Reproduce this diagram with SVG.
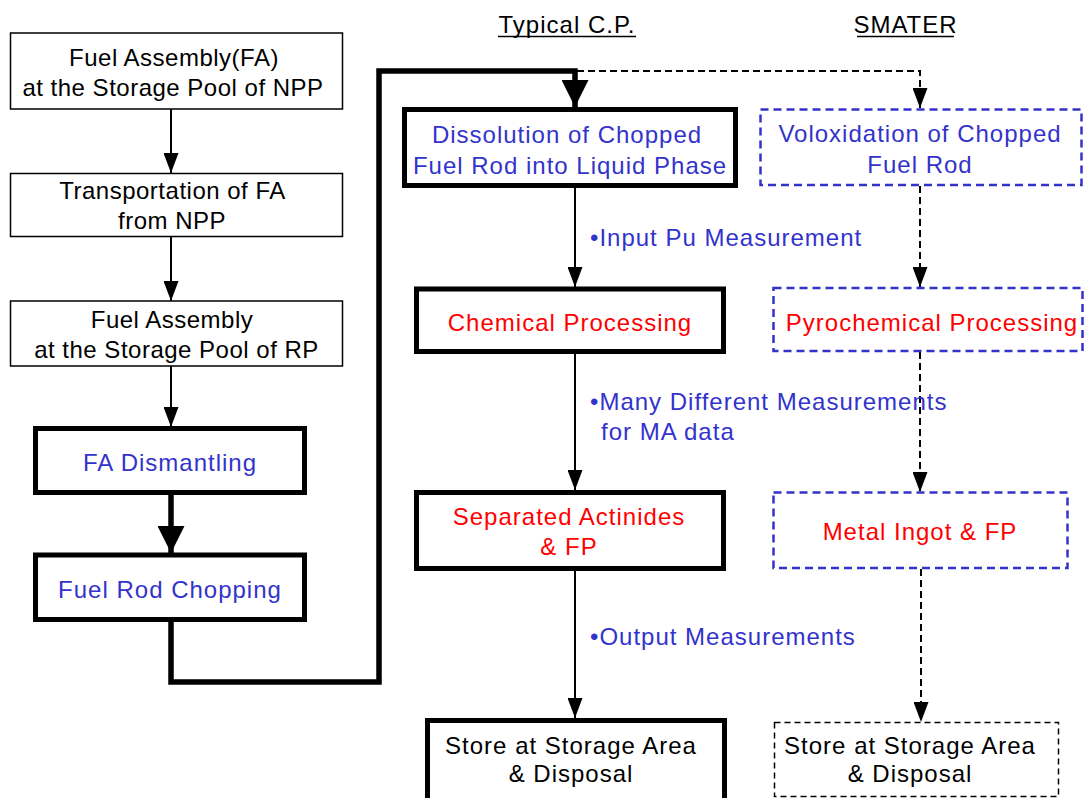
<svg xmlns="http://www.w3.org/2000/svg" width="1087" height="798" viewBox="0 0 1087 798">
<defs>
<style>
text{font-family:"Liberation Sans",Arial,sans-serif;font-size:24px;letter-spacing:1px}
.ls{letter-spacing:0.5px}
.c{text-anchor:middle}
.k{fill:#000}
.b{fill:#3333CC}
.r{fill:#FF0000}
.thin{fill:#fff;stroke:#000;stroke-width:1.5}
.thick{fill:#fff;stroke:#000;stroke-width:5}
.bdash{fill:#fff;stroke:#3333CC;stroke-width:2.5;stroke-dasharray:8 5}
.kdash{fill:#fff;stroke:#000;stroke-width:1.5;stroke-dasharray:6 4}
.ln{fill:none;stroke:#000;stroke-width:2}
.lnd{fill:none;stroke:#000;stroke-width:2;stroke-dasharray:7 4}
.lnt{fill:none;stroke:#000;stroke-width:5.5;stroke-linejoin:miter}
</style>
<marker id="a" markerUnits="userSpaceOnUse" markerWidth="20" markerHeight="15" refX="20" refY="7.5" orient="auto">
<path d="M0,0 L20,7.5 L0,15 z" fill="#000"/>
</marker>
<marker id="at" markerUnits="userSpaceOnUse" markerWidth="27" markerHeight="27" refX="27" refY="13.5" orient="auto">
<path d="M0,0 L27,13.5 L0,27 z" fill="#000"/>
</marker>
</defs>
<rect width="1087" height="798" fill="#fff"/>

<g id="headers">
<text class="c k" x="567" y="33">Typical C.P.</text>
<line x1="498" y1="36.5" x2="636" y2="36.5" stroke="#000" stroke-width="1.5"/>
<text class="c k" x="905.5" y="33">SMATER</text>
<line x1="857" y1="36.5" x2="954" y2="36.5" stroke="#000" stroke-width="1.5"/>
</g>

<g id="connectors">
<line class="ln" x1="171" y1="109" x2="171" y2="173" marker-end="url(#a)"/>
<line class="ln" x1="171" y1="237" x2="171" y2="301" marker-end="url(#a)"/>
<line class="ln" x1="171" y1="366" x2="171" y2="427" marker-end="url(#a)"/>
<line class="lnt" x1="171" y1="495" x2="171" y2="553" marker-end="url(#at)"/>
<polyline class="lnt" points="171,622 171,682 379,682 379,71 575,71 575,107" marker-end="url(#at)"/>
<polyline class="lnd" points="577,71 920,71 920,108" marker-end="url(#a)"/>
<line class="ln" x1="575" y1="188" x2="575" y2="287" marker-end="url(#a)"/>
<line class="ln" x1="575" y1="354" x2="575" y2="490" marker-end="url(#a)"/>
<line class="ln" x1="575" y1="571" x2="575" y2="718" marker-end="url(#a)"/>
<line class="lnd" x1="920" y1="186" x2="920" y2="287" marker-end="url(#a)"/>
<line class="lnd" x1="920" y1="352" x2="920" y2="492" marker-end="url(#a)"/>
<line class="lnd" x1="921" y1="569" x2="921" y2="722" marker-end="url(#a)"/>
</g>

<g id="labels">
<text class="b" x="590" y="246">•Input Pu Measurement</text>
<text class="b" x="590" y="410">•Many Different Measurements</text>
<text class="b" x="601" y="440">for MA data</text>
<text class="b" x="590" y="645">•Output Measurements</text>
</g>

<g id="n1">
<rect class="thin" x="10.5" y="33" width="332" height="76"/>
<text class="c k ls" x="174" y="66">Fuel Assembly(FA)</text>
<text class="c k ls" x="173" y="96">at the Storage Pool of NPP</text>
</g>
<g id="n2">
<rect class="thin" x="10.5" y="173.5" width="332" height="63"/>
<text class="c k ls" x="172.5" y="199">Transportation of FA</text>
<text class="c k ls" x="172" y="229">from NPP</text>
</g>
<g id="n3">
<rect class="thin" x="10.5" y="301" width="332" height="65"/>
<text class="c k ls" x="172" y="328">Fuel Assembly</text>
<text class="c k ls" x="176.5" y="358">at the Storage Pool of RP</text>
</g>
<g id="n4">
<rect class="thick" x="35.5" y="428.5" width="269" height="64"/>
<text class="c b" x="170" y="471">FA Dismantling</text>
</g>
<g id="n5">
<rect class="thick" x="35.5" y="555" width="269" height="64.5"/>
<text class="c b" x="170" y="598">Fuel Rod Chopping</text>
</g>
<g id="n6">
<rect class="thick" x="404.5" y="109.5" width="331" height="76"/>
<text class="c b" x="567" y="143">Dissolution of Chopped</text>
<text class="c b" x="570" y="174">Fuel Rod into Liquid Phase</text>
</g>
<g id="n7">
<rect class="thick" x="416.5" y="289" width="307" height="62.5"/>
<text class="c r" x="570" y="331">Chemical Processing</text>
</g>
<g id="n8">
<rect class="thick" x="416.5" y="492.5" width="307" height="76"/>
<text class="c r" x="569" y="525">Separated Actinides</text>
<text class="c r" x="569" y="555">&amp; FP</text>
</g>
<g id="n9">
<rect class="thick" x="427.5" y="720.5" width="297" height="82"/>
<text class="c k" x="571" y="754">Store at Storage Area</text>
<text class="c k" x="571" y="782">&amp; Disposal</text>
</g>
<g id="n10">
<rect class="bdash" x="760.5" y="109.5" width="321" height="75.5"/>
<text class="c b" x="920" y="142">Voloxidation of Chopped</text>
<text class="c b" x="920" y="173">Fuel Rod</text>
</g>
<g id="n11">
<rect class="bdash" x="773.5" y="288" width="309" height="63"/>
<text class="c r" x="932" y="331">Pyrochemical Processing</text>
</g>
<g id="n12">
<rect class="bdash" x="773.5" y="492.5" width="294" height="75.5"/>
<text class="c r" x="920" y="540">Metal Ingot &amp; FP</text>
</g>
<g id="n13">
<rect class="kdash" x="774.5" y="722.5" width="284" height="74"/>
<text class="c k" x="910" y="754">Store at Storage Area</text>
<text class="c k" x="910" y="782">&amp; Disposal</text>
</g>
</svg>
